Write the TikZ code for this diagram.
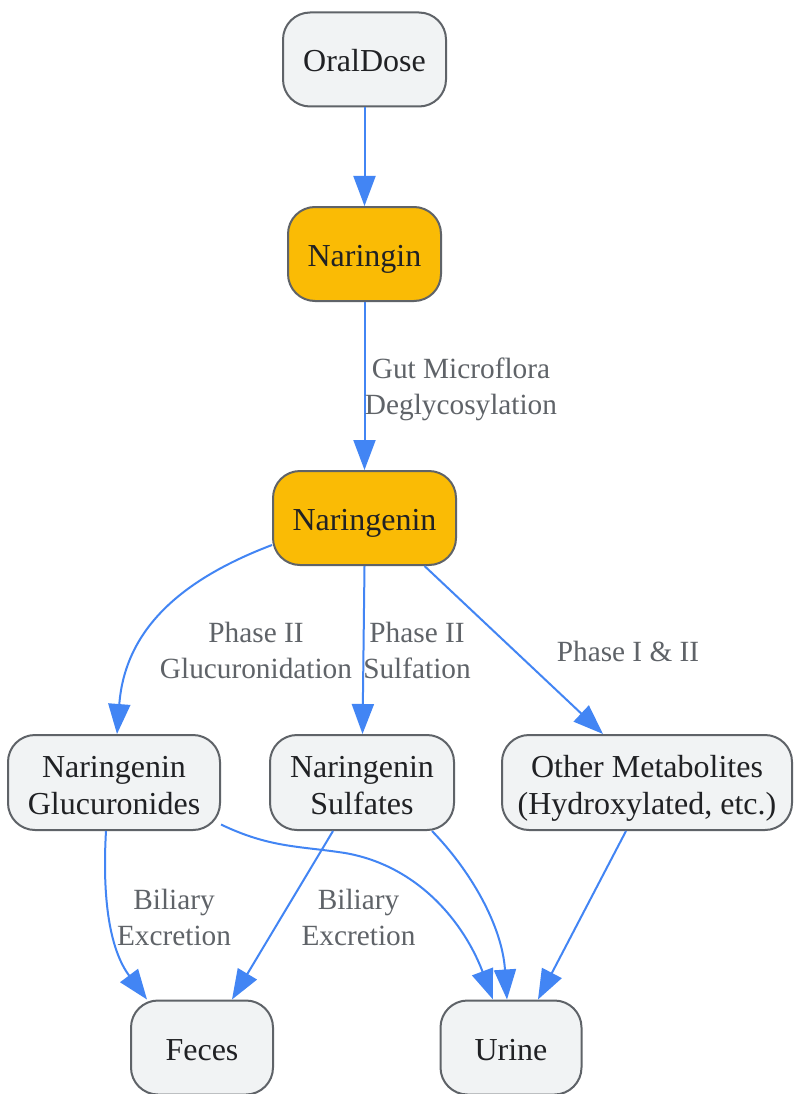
\documentclass[tikz,border=0pt]{standalone}
\usepackage{fontspec}
\setmainfont{Liberation Serif}
\usetikzlibrary{arrows.meta,calc}
\definecolor{edgeblue}{HTML}{4285F4}
\definecolor{bordergray}{HTML}{5F6368}
\definecolor{boxfill}{HTML}{F1F3F4}
\definecolor{hlfill}{HTML}{FABB05}
\definecolor{textdark}{HTML}{202124}
\definecolor{labelgray}{HTML}{5F6368}
\newcommand\mkone[1]{\raisebox{0pt}[25pt][0pt]{#1}}
\newcommand\mktwo[2]{\raisebox{0pt}[25pt][36pt]{\begin{tabular}[t]{@{}c@{}}#1\\#2\end{tabular}}}
\begin{document}
\begin{tikzpicture}[x=1pt,y=-1pt,
  box/.style={draw=bordergray, line width=2pt, fill=boxfill, rounded corners=27pt,
    text=textdark, font=\fontsize{32}{37}\selectfont, align=center, inner sep=0pt,
    minimum height=94pt},
  hlbox/.style={box, fill=hlfill},
  elabel/.style={text=labelgray, font=\fontsize{29.3}{36}\selectfont, align=center, inner sep=0pt},
  flow/.style={draw=edgeblue, line width=2pt, -{Triangle[length=30pt,width=22pt]}}]
\useasboundingbox (0,0) rectangle (793,1094);
\fill[white] (0,0) rectangle (793,1094);

% nodes
\node[box, minimum width=163pt] (oral) at (364.5,59.5) {\mkone{OralDose}};
\node[hlbox, minimum width=153pt] (naringin) at (364.5,254) {\mkone{Naringin}};
\node[hlbox, minimum width=183pt] (naringenin) at (364.5,518) {\mkone{Naringenin}};
\node[box, minimum width=212pt, minimum height=95pt] (gluc) at (114,782.5) {\mktwo{Naringenin}{Glucuronides}};
\node[box, minimum width=184pt, minimum height=95pt] (sulf) at (362,782.5) {\mktwo{Naringenin}{Sulfates}};
\node[box, minimum width=290pt, minimum height=95pt] (other) at (647,782.5) {\mktwo{Other Metabolites}{(Hydroxylated, etc.)}};
\node[box, minimum width=142pt] (feces) at (202,1047.5) {\mkone{Feces}};
\node[box, minimum width=141pt] (urine) at (511,1047.5) {\mkone{Urine}};

% edges
\draw[flow] (oral.south) -- (naringin.north);
\draw[flow] (naringin.south) -- (naringenin.north);
\node[elabel] (l1) at (461,389) {Gut Microflora\\Deglycosylation};

\draw[flow] ([yshift=-27pt]naringenin.west) .. controls (180,580) and (125,630) .. ([xshift=3pt]gluc.north);
\node[elabel] (l2) at (256,650) {Phase II\\Glucuronidation};

\draw[flow] (naringenin.south) -- ([xshift=0.5pt]sulf.north);
\node[elabel] (l3) at (417,650) {Phase II\\Sulfation};

\draw[flow] ([xshift=60pt]naringenin.south) -- ([xshift=-44pt]other.north);
\node[elabel] (l4) at (628,651) {Phase I \& II};

\draw[flow] ([xshift=-8pt]gluc.south) .. controls (102,900) and (110,950) .. ([xshift=-55pt]feces.north);
\node[elabel] (l5) at (174,917) {Biliary\\Excretion};

\coordinate (gu) at (345,853);
\draw[flow] ([yshift=-42pt]gluc.east) .. controls (270,848) and (300,846) .. (gu)
  .. controls (420,866) and (465,925) .. ([xshift=-18pt]urine.north);

\draw[flow] ([xshift=-29pt]sulf.south) -- ([xshift=30pt]feces.north);
\node[elabel] (l6) at (358.5,917) {Biliary\\Excretion};

\draw[flow] ([xshift=70pt]sulf.south) .. controls (470,870) and (502,925) .. ([xshift=-4pt]urine.north);

\draw[flow] ([xshift=-21pt]other.south) -- ([xshift=27pt]urine.north);
\end{tikzpicture}
\end{document}
